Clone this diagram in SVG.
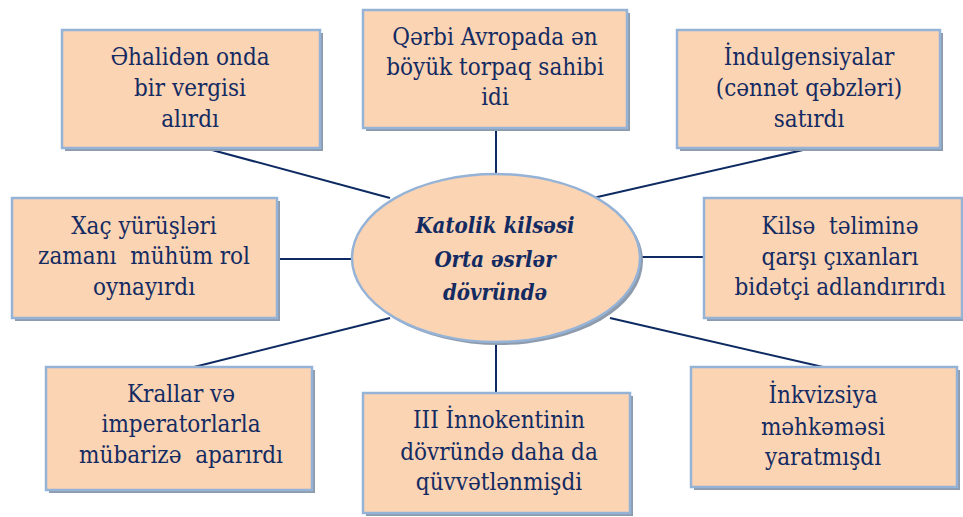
<svg xmlns="http://www.w3.org/2000/svg" width="963" height="517" viewBox="0 0 963 517">
<style>
.box{fill:#FBD4B4;stroke:#95B3D7;stroke-width:2.5}
.sh{fill:#8E9BAD}
.t{font-family:'DejaVu Serif Condensed','DejaVu Serif',serif;font-size:24px;fill:#142B62;text-anchor:middle;white-space:pre}
.c{font-weight:bold;font-style:italic;font-size:22px}
.ln{stroke:#0E2A62;stroke-width:2;fill:none}
</style>
<rect width="963" height="517" fill="#fff"/>
<g id="connectors">
<line class="ln" x1="212" y1="150" x2="390" y2="198"/>
<line class="ln" x1="496" y1="130" x2="496" y2="175"/>
<line class="ln" x1="803" y1="150" x2="593" y2="198"/>
<line class="ln" x1="278" y1="259" x2="352" y2="259"/>
<line class="ln" x1="638" y1="257" x2="704" y2="257"/>
<line class="ln" x1="390" y1="318" x2="190" y2="368"/>
<line class="ln" x1="496" y1="341" x2="496" y2="393"/>
<line class="ln" x1="610" y1="318" x2="823" y2="367"/>
</g>
<g id="center">
<ellipse class="sh" cx="499" cy="261" rx="144" ry="84"/>
<ellipse class="box" cx="496" cy="258" rx="144" ry="84"/>
<text class="t c" x="495" y="233">Katolik kilsəsi</text>
<text class="t c" x="495" y="267">Orta əsrlər</text>
<text class="t c" x="495" y="300">dövründə</text>
</g>
<g id="n1">
<rect class="sh" x="65" y="33" width="258" height="118"/>
<rect class="box" x="62" y="30" width="258" height="118"/>
<text class="t" x="190" y="65">Əhalidən onda</text>
<text class="t" x="190" y="96">bir vergisi</text>
<text class="t" x="190" y="127">alırdı</text>
</g>
<g id="n2">
<rect class="sh" x="366" y="13" width="264" height="118"/>
<rect class="box" x="363" y="10" width="264" height="118"/>
<text class="t" x="495" y="45">Qərbi Avropada ən</text>
<text class="t" x="495" y="75">böyük torpaq sahibi</text>
<text class="t" x="495" y="105">idi</text>
</g>
<g id="n3">
<rect class="sh" x="680" y="33" width="263" height="118"/>
<rect class="box" x="677" y="30" width="263" height="118"/>
<text class="t" x="809" y="65">İndulgensiyalar</text>
<text class="t" x="809" y="96">(cənnət qəbzləri)</text>
<text class="t" x="809" y="127">satırdı</text>
</g>
<g id="n4">
<rect class="sh" x="15" y="201" width="265" height="120"/>
<rect class="box" x="12" y="198" width="265" height="120"/>
<text class="t" x="144" y="234">Xaç yürüşləri</text>
<text class="t" x="144" y="264">zamanı  mühüm rol</text>
<text class="t" x="144" y="295">oynayırdı</text>
</g>
<g id="n5">
<rect class="sh" x="707" y="201" width="260" height="120"/>
<rect class="box" x="704" y="198" width="258" height="120"/>
<text class="t" x="840" y="234">Kilsə  təliminə</text>
<text class="t" x="840" y="265">qarşı çıxanları</text>
<text class="t" x="840" y="295">bidətçi adlandırırdı</text>
</g>
<g id="n6">
<rect class="sh" x="49" y="370" width="266" height="123"/>
<rect class="box" x="46" y="367" width="266" height="123"/>
<text class="t" x="181" y="402">Krallar və</text>
<text class="t" x="181" y="432">imperatorlarla</text>
<text class="t" x="181" y="463">mübarizə  aparırdı</text>
</g>
<g id="n7">
<rect class="sh" x="366" y="396" width="267" height="120"/>
<rect class="box" x="363" y="393" width="267" height="120"/>
<text class="t" x="499" y="428">III İnnokentinin</text>
<text class="t" x="499" y="460">dövründə daha da</text>
<text class="t" x="499" y="490">qüvvətlənmişdi</text>
</g>
<g id="n8">
<rect class="sh" x="694" y="370" width="266" height="120"/>
<rect class="box" x="691" y="367" width="266" height="120"/>
<text class="t" x="823" y="403">İnkvizsiya</text>
<text class="t" x="823" y="435">məhkəməsi</text>
<text class="t" x="823" y="465">yaratmışdı</text>
</g>
</svg>
